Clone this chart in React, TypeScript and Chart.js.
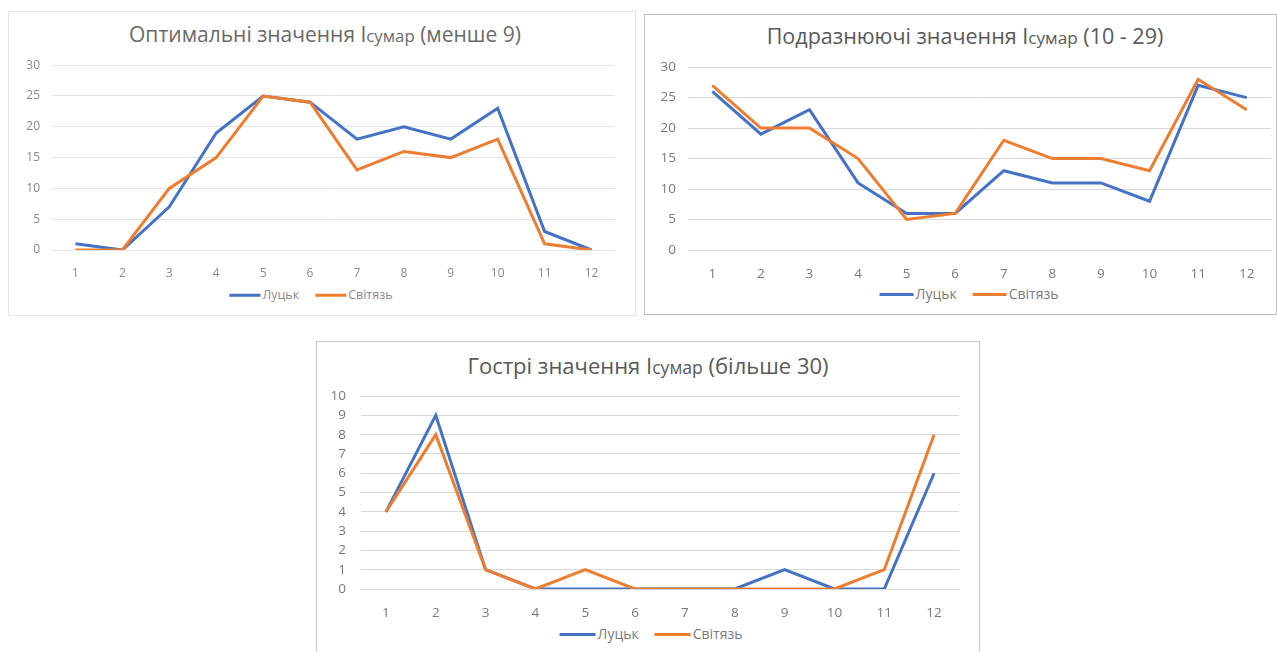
import React, { useEffect, useRef } from "react";
import { Chart, registerables } from "chart.js";

Chart.register(...registerables);

const months = ["1", "2", "3", "4", "5", "6", "7", "8", "9", "10", "11", "12"];
const seriesNames = ["Луцьк", "Світязь"];

const optimalLutsk = [1, 0, 7, 19, 25, 24, 18, 20, 18, 23, 3, 0];
const optimalSvitiaz = [0, 0, 10, 15, 25, 24, 13, 16, 15, 18, 1, 0];

const irritLutsk = [26, 19, 23, 11, 6, 6, 13, 11, 11, 8, 27, 25];
const irritSvitiaz = [27, 20, 20, 15, 5, 6, 18, 15, 15, 13, 28, 23];

const acuteLutsk = [4, 9, 1, 0, 0, 0, 0, 0, 1, 0, 0, 6];
const acuteSvitiaz = [4, 8, 1, 0, 1, 0, 0, 0, 0, 0, 1, 8];

const BLUE = "#4472C4";
const ORANGE = "#ED7D31";
const FONT = "'Open Sans', 'Liberation Sans', sans-serif";

type Rect = { l: number; t: number; r: number; b: number };

type PanelProps = {
  box: Rect;
  borderColor: string;
  plot: Rect;
  titleBefore: string;
  titleAfter: string;
  titleX: number;
  titleY: number;
  titleSize: number;
  titleColor: string;
  legendX: number;
  legendY: number;
  legendSize: number;
  legendLine: number;
  a: number[];
  b: number[];
  yMax: number;
  step: number;
  textColor: string;
  gridColor: string;
  tickSize: number;
  yPad: number;
};

const Y_AXIS_W = 44;
const PAD_TOP = 12;
const PAD_RIGHT = 8;
const X_AXIS_H = 34;

function Panel(p: PanelProps) {
  const ref = useRef<HTMLCanvasElement | null>(null);
  const left = p.plot.l - Y_AXIS_W;
  const top = Math.round(p.plot.t - (PAD_TOP + p.tickSize / 2 + 0.5));
  const width = p.plot.r + PAD_RIGHT - left;
  const height = p.plot.b + X_AXIS_H - top;

  useEffect(() => {
    if (!ref.current) return;
    const chart = new Chart(ref.current, {
      type: "line",
      data: {
        labels: months,
        datasets: [
          {
            label: seriesNames[0],
            data: p.a,
            borderColor: BLUE,
            backgroundColor: BLUE,
            borderWidth: 3,
            pointRadius: 0,
            tension: 0,
            order: 1,
          },
          {
            label: seriesNames[1],
            data: p.b,
            borderColor: ORANGE,
            backgroundColor: ORANGE,
            borderWidth: 3,
            pointRadius: 0,
            tension: 0,
            order: 0,
          },
        ],
      },
      options: {
        animation: false,
        responsive: true,
        maintainAspectRatio: false,
        layout: { padding: { top: PAD_TOP, right: PAD_RIGHT, left: 0, bottom: 0 } },
        plugins: {
          legend: { display: false },
          title: { display: false },
          tooltip: { enabled: false },
        },
        scales: {
          x: {
            type: "category",
            offset: true,
            grid: { display: false },
            border: { display: false },
            ticks: {
              padding: 8,
              color: p.textColor,
              font: { family: FONT, size: p.tickSize },
              maxRotation: 0,
              autoSkip: false,
            },
            afterFit: (s: any) => {
              s.height = X_AXIS_H;
            },
          },
          y: {
            min: 0,
            max: p.yMax,
            ticks: {
              stepSize: p.step,
              padding: p.yPad,
              color: p.textColor,
              font: { family: FONT, size: p.tickSize },
              autoSkip: false,
            },
            grid: { color: p.gridColor, drawTicks: false, lineWidth: 1 },
            border: { display: false },
            afterFit: (s: any) => {
              s.width = Y_AXIS_W;
            },
          },
        },
      },
    });
    return () => chart.destroy();
  }, []);

  return (
    <>
      <div
        style={{
          position: "absolute",
          left: p.box.l,
          top: p.box.t,
          width: p.box.r - p.box.l,
          height: p.box.b - p.box.t,
          border: `1px solid ${p.borderColor}`,
          boxSizing: "border-box",
          background: "#fff",
        }}
      />
      <div
        style={{
          position: "absolute",
          left: p.titleX,
          top: p.titleY,
          transform: "translate(-50%, -50%)",
          whiteSpace: "nowrap",
          fontFamily: FONT,
          fontSize: p.titleSize,
          color: p.titleColor,
          lineHeight: 1,
        }}
      >
        {p.titleBefore}
        <span style={{ fontSize: "0.8em" }}>сумар</span>
        {p.titleAfter}
      </div>
      <div style={{ position: "absolute", left, top, width, height }}>
        <canvas ref={ref} />
      </div>
      <div
        style={{
          position: "absolute",
          left: p.legendX,
          top: p.legendY,
          transform: "translate(-50%, -50%)",
          display: "flex",
          alignItems: "center",
          whiteSpace: "nowrap",
          fontFamily: FONT,
          fontSize: p.legendSize,
          color: p.textColor,
          lineHeight: 1,
        }}
      >
        <span style={{ display: "inline-block", width: p.legendLine, height: 3, background: BLUE, marginRight: 2 }} />
        <span style={{ marginRight: 16 }}>{seriesNames[0]}</span>
        <span style={{ display: "inline-block", width: p.legendLine, height: 3, background: ORANGE, marginRight: 2 }} />
        <span>{seriesNames[1]}</span>
      </div>
    </>
  );
}

export default function App() {
  return (
    <div
      style={{
        position: "absolute",
        left: 0,
        top: 0,
        width: 1277,
        height: 652,
        background: "#fff",
        overflow: "hidden",
      }}
    >
      <Panel
        box={{ l: 8, t: 11, r: 636, b: 316 }}
        borderColor="#e4e4e4"
        plot={{ l: 52, t: 64, r: 615, b: 250 }}
        titleBefore="Оптимальні значення I"
        titleAfter=" (менше 9)"
        titleX={325}
        titleY={34}
        titleSize={21}
        titleColor="#6a6a6a"
        legendX={311}
        legendY={295}
        legendSize={12.5}
        legendLine={31}
        a={optimalLutsk}
        b={optimalSvitiaz}
        yMax={30}
        step={5}
        textColor="#8a8a8a"
        gridColor="#e2e2e2"
        tickSize={12}
        yPad={12}
      />
      <Panel
        box={{ l: 644, t: 14, r: 1277, b: 315 }}
        borderColor="#bdbdbd"
        plot={{ l: 688, t: 66, r: 1271, b: 250 }}
        titleBefore="Подразнюючі значення I"
        titleAfter=" (10 - 29)"
        titleX={965}
        titleY={36}
        titleSize={21.5}
        titleColor="#595959"
        legendX={969}
        legendY={294}
        legendSize={14}
        legendLine={34}
        a={irritLutsk}
        b={irritSvitiaz}
        yMax={30}
        step={5}
        textColor="#7a7a7a"
        gridColor="#d9d9d9"
        tickSize={13.5}
        yPad={12}
      />
      <Panel
        box={{ l: 316, t: 341, r: 980, b: 660 }}
        borderColor="#c8c8c8"
        plot={{ l: 361, t: 392, r: 959, b: 589 }}
        titleBefore="Гострі значення I"
        titleAfter=" (більше 30)"
        titleX={648}
        titleY={365}
        titleSize={22}
        titleColor="#595959"
        legendX={651}
        legendY={634}
        legendSize={14}
        legendLine={36}
        a={acuteLutsk}
        b={acuteSvitiaz}
        yMax={10}
        step={1}
        textColor="#7a7a7a"
        gridColor="#d9d9d9"
        tickSize={13.5}
        yPad={15}
      />
    </div>
  );
}
